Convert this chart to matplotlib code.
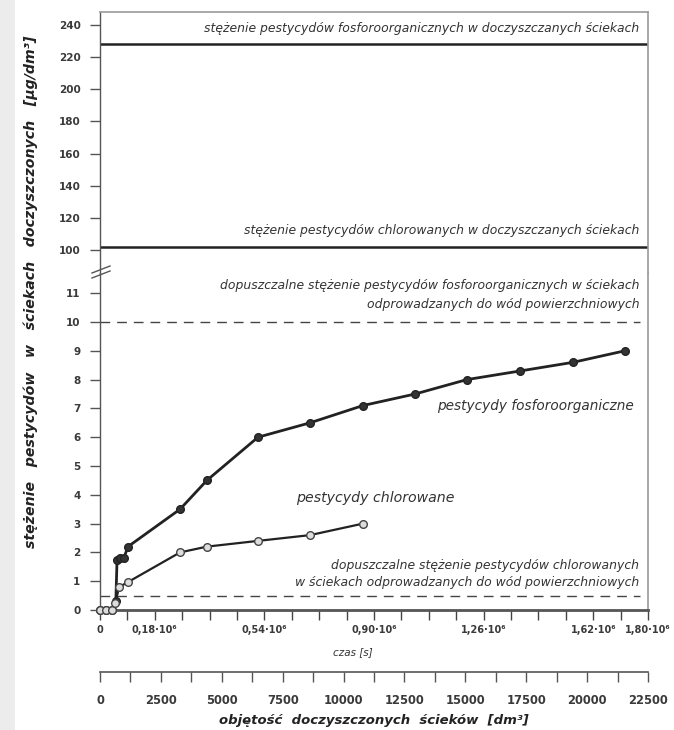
import matplotlib
matplotlib.use("Agg")
import matplotlib.pyplot as plt
from matplotlib.lines import Line2D
from matplotlib.patches import Rectangle

plt.rcParams['font.family'] = ['DejaVu Sans']

# --- data -------------------------------------------------------------
# time [10^6 s] and concentration [ug/dm3]
t_fosfor = [0.0, 0.02, 0.04, 0.052, 0.056, 0.066, 0.078, 0.092,
            0.263, 0.351, 0.519, 0.690, 0.864, 1.035, 1.205, 1.380, 1.554, 1.724]
c_fosfor = [0.0, 0.0, 0.0, 0.3, 1.75, 1.8, 1.8, 2.2,
            3.5, 4.5, 6.0, 6.5, 7.1, 7.5, 8.0, 8.3, 8.6, 9.0]

t_chlor = [0.0, 0.02, 0.04, 0.050, 0.063, 0.092, 0.263, 0.351, 0.519, 0.690, 0.864]
c_chlor = [0.0, 0.0, 0.0, 0.25, 0.8, 0.97, 2.0, 2.2, 2.4, 2.6, 3.0]

# concentrations in the treated effluent and permissible limits
c_in_fosfor = 228
c_in_chlor = 102
limit_fosfor = 10
limit_chlor = 0.5

time_ticks = [0.18, 0.54, 0.90, 1.26, 1.62, 1.80]
time_labels = ['0,18·10⁶', '0,54·10⁶', '0,90·10⁶', '1,26·10⁶', '1,62·10⁶', '1,80·10⁶']
volume_ticks = [0, 2500, 5000, 7500, 10000, 12500, 15000, 17500, 20000, 22500]
upper_ticks = [100, 120, 140, 160, 180, 200, 220, 240]
lower_ticks = list(range(0, 12))

# --- figure -----------------------------------------------------------
W, H = 674, 730
fig = plt.figure(figsize=(W / 100, H / 100), dpi=100)
fig.patch.set_facecolor('white')
fig.patches.append(Rectangle((0, 0), 15 / W, 1, transform=fig.transFigure,
                             facecolor='#ececec', edgecolor='none', zorder=0))

def fx(px):
    return px / W

def fy(py):
    return 1 - py / H

x_left, x_right = 100, 648
y_top, y_break, y_zero, y_vol = 12, 273, 610, 672

frame = '#9a9a9a'
tick_font = dict(fontsize=7.5, fontweight='bold', color='#3a3a3a')

ax_lo = fig.add_axes([fx(x_left), fy(y_zero), fx(x_right - x_left), (y_zero - y_break) / H])
ax_hi = fig.add_axes([fx(x_left), fy(y_break), fx(x_right - x_left), (y_break - y_top) / H],
                     sharex=ax_lo)

ax_lo.set_xlim(0, 1.8)
ax_lo.set_ylim(0, (y_zero - y_break) / 28.8)
ax_hi.set_ylim(100 - (y_break - 250) / 1.607, 240 + (25 - y_top) / 1.607)

for ax in (ax_lo, ax_hi):
    ax.spines['left'].set_color('#555555')
    ax.spines['left'].set_linewidth(1.0)
    ax.spines['right'].set_color(frame)
    ax.spines['right'].set_linewidth(1.2)
    ax.spines['top'].set_color(frame)
    ax.spines['top'].set_linewidth(1.2)
    ax.tick_params(axis='y', direction='out', length=7, width=1, color='#555555', pad=7)

ax_hi.spines['bottom'].set_visible(False)
ax_lo.spines['top'].set_visible(False)
ax_hi.tick_params(axis='x', which='both', bottom=False, labelbottom=False)

ax_hi.set_yticks(upper_ticks)
ax_hi.set_yticklabels([str(v) for v in upper_ticks], **tick_font)
ax_lo.set_yticks(lower_ticks)
ax_lo.set_yticklabels([str(v) for v in lower_ticks], **tick_font)

# time axis
ax_lo.spines['bottom'].set_color('#555555')
ax_lo.spines['bottom'].set_linewidth(2.0)
minor = [round(0.09 * i, 2) for i in range(0, 21)]
ax_lo.set_xticks(minor, minor=True)
ax_lo.set_xticks([0] + time_ticks)
ax_lo.set_xticklabels(['0'] + time_labels, fontsize=7, fontweight='bold', color='#3a3a3a')
ax_lo.tick_params(axis='x', which='both', direction='out', length=7, width=1,
                  color='#444444', pad=4)
ax_lo.text(0.83, -0.125, 'czas [s]', transform=ax_lo.get_xaxis_transform(),
           ha='center', va='center', fontsize=7.5, style='italic', color='#333333')

# volume axis
ax_v = fig.add_axes([fx(x_left), fy(y_vol), fx(x_right - x_left), 0.0001])
ax_v.set_xlim(0, 22500)
ax_v.set_yticks([])
for s in ('left', 'right', 'top'):
    ax_v.spines[s].set_visible(False)
ax_v.spines['bottom'].set_color('#555555')
ax_v.spines['bottom'].set_linewidth(1.2)
ax_v.set_xticks(volume_ticks)
ax_v.set_xticks([1250 * i for i in range(19)], minor=True)
ax_v.set_xticklabels([str(v) for v in volume_ticks], fontsize=8.3, fontweight='bold',
                     color='#3a3a3a')
ax_v.tick_params(axis='x', which='both', direction='out', length=7, width=1,
                 color='#555555', pad=9)
ax_v.set_xlabel('objętość  doczyszczonych  ścieków  [dm³]', fontsize=9.5,
                fontweight='bold', style='italic', color='#222222', labelpad=5)

# y label
fig.text(fx(31), fy(292), 'stężenie   pestycydów   w   ściekach   doczyszczonych   [µg/dm³]',
         rotation=90, ha='center', va='center', fontsize=10.2, fontweight='bold',
         style='italic', color='#222222')

# upper panel: concentrations in treated effluent
ax_hi.axhline(c_in_fosfor, color='#222222', lw=1.8)
ax_hi.axhline(c_in_chlor, color='#222222', lw=1.8)
small = dict(fontsize=8.9, style='italic', color='#333333', ha='right')
ax_hi.text(1.772, 238.0, 'stężenie pestycydów fosforoorganicznych w doczyszczanych ściekach',
           va='center', **small)
ax_hi.text(1.772, 112, 'stężenie pestycydów chlorowanych w doczyszczanych ściekach',
           va='center', **small)

# lower panel: limits and measured series
ax_lo.axhline(limit_fosfor, xmin=0, xmax=0.985, color='#444444', lw=1.0, ls=(0, (7, 5)))
ax_lo.axhline(limit_chlor, xmin=0, xmax=0.985, color='#444444', lw=1.0, ls=(0, (7, 5)))
ax_lo.text(1.772, 10.94, 'dopuszczalne stężenie pestycydów fosforoorganicznych w ściekach\n'
           'odprowadzanych do wód powierzchniowych', va='center', linespacing=1.6, **small)
ax_lo.text(1.772, 1.25, 'dopuszczalne stężenie pestycydów chlorowanych\n'
           'w ściekach odprowadzanych do wód powierzchniowych', va='center',
           linespacing=1.45, **small)

ax_lo.plot(t_fosfor, c_fosfor, color='#222222', lw=2.0, marker='o', ms=5.5,
           mfc='#333333', mec='#222222', mew=1, clip_on=False, zorder=3)
ax_lo.plot(t_chlor, c_chlor, color='#222222', lw=1.6, marker='o', ms=5.5,
           mfc='#dddddd', mec='#444444', mew=1, clip_on=False, zorder=3)

ax_lo.text(1.752, 7.1, 'pestycydy fosforoorganiczne', ha='right', va='center',
           fontsize=9.8, style='italic', color='#333333')
ax_lo.text(0.903, 3.9, 'pestycydy chlorowane', ha='center', va='center',
           fontsize=10.2, style='italic', color='#333333')

# axis break marks
for dy in (-3, 2):
    fig.add_artist(Line2D([fx(92), fx(110)], [fy(y_break + 3 + dy), fy(y_break - 4 + dy)],
                          transform=fig.transFigure, color='#555555', lw=1.0))

fig.savefig('out.png', dpi=100, facecolor=fig.get_facecolor())
